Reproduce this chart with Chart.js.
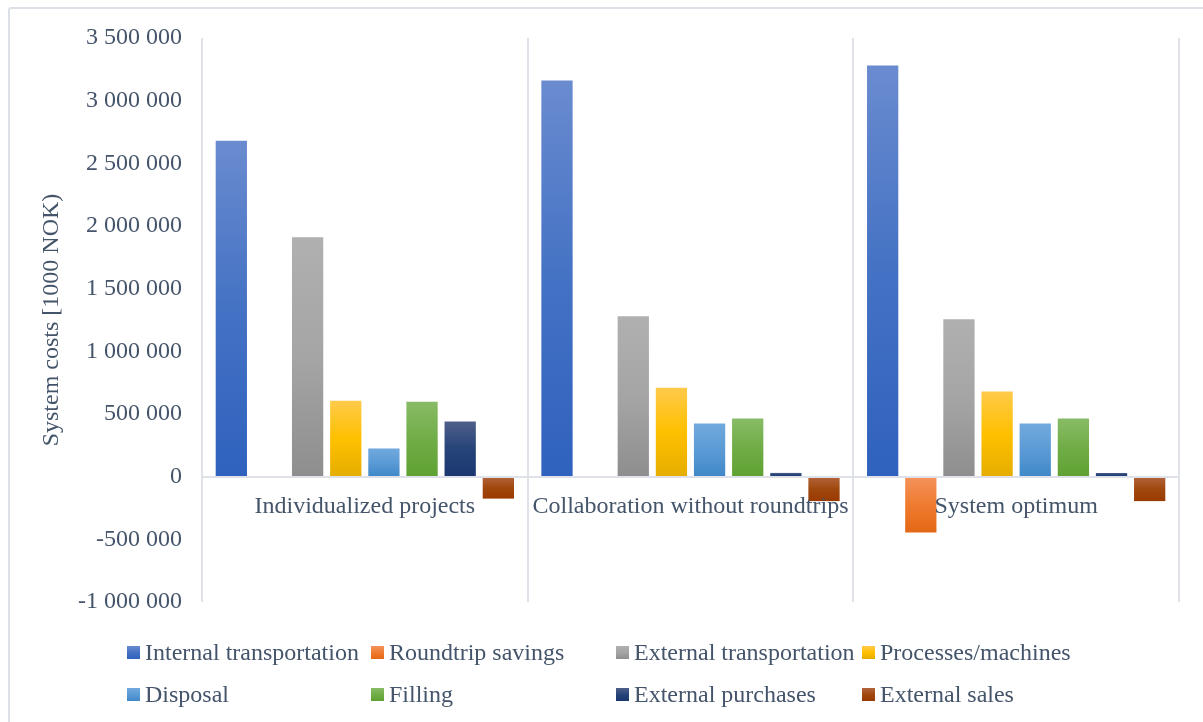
<!DOCTYPE html>
<html>
<head>
<meta charset="utf-8">
<title>System costs</title>
<script src="https://cdn.jsdelivr.net/npm/chart.js@4.4.1/dist/chart.umd.min.js"></script>
<style>
  html, body { margin: 0; padding: 0; background: #fff; }
  #wrap { position: relative; width: 1203px; height: 722px; overflow: hidden; background: #fff; }
  #frame { position: absolute; left: 8px; top: 7px; width: 1260px; height: 780px;
           border: 2px solid #dde1e7; border-radius: 3px; box-sizing: border-box; }
  #c { position: absolute; left: 0; top: 0; }
  .lg { position: absolute; height: 30px; display: flex; align-items: center;
        font: 24px "Liberation Serif", "Times New Roman", serif; color: #44546a; white-space: nowrap; }
  .lg i { display: inline-block; width: 13px; height: 13px; margin-right: 5px; }
</style>
</head>
<body>
<div id="wrap">
  <div id="frame"></div>
  <canvas id="c" width="1203" height="722"></canvas>
  <div id="legend"></div>
</div>
<script>
// Scenarios on the category axis
const categories = ['Individualized projects', 'Collaboration without roundtrips', 'System optimum'];

// Cost components per scenario [1000 NOK]
const internalTransportation = [2680000, 3160000, 3280000];
const roundtripSavings       = [0, 0, -445000];
const externalTransportation = [1910000, 1280000, 1255000];
const processesMachines      = [605000, 710000, 680000];
const disposal               = [225000, 425000, 425000];
const filling                = [598000, 465000, 465000];
const externalPurchases      = [440000, 30000, 30000];
const externalSales          = [-175000, -195000, -195000];

const seriesNames = ['Internal transportation', 'Roundtrip savings', 'External transportation',
  'Processes/machines', 'Disposal', 'Filling', 'External purchases', 'External sales'];
const seriesValues = [internalTransportation, roundtripSavings, externalTransportation,
  processesMachines, disposal, filling, externalPurchases, externalSales];

// Value axis ticks
const yMin = -1000000;
const yMax = 3500000;
const yStep = 500000;
const yTitle = 'System costs [1000 NOK)';

// Bar shading: light top, base middle, dark bottom
const shades = [
  ['#6a8bcf', '#4472c4', '#2f62be'],
  ['#f4935c', '#ef7b30', '#e46815'],
  ['#b0b0b0', '#a5a5a5', '#8e8e8e'],
  ['#ffca4a', '#ffc000', '#e5ad00'],
  ['#72a9de', '#5b9bd5', '#3f88c8'],
  ['#88bb66', '#70ad47', '#5fa132'],
  ['#4f5f8a', '#264478', '#1a3670'],
  ['#b3643d', '#a0480e', '#9a3a00']
];

const FONT = '"Liberation Serif", "Times New Roman", serif';
const TEXT = '#44546a';
const GRID = '#dfe3e9';

function shadedFill(idx) {
  const [light, mid, dark] = shades[idx];
  return (ctx) => {
    const chart = ctx.chart;
    if (ctx.type !== 'data' || !chart.chartArea || !chart.scales.y) return mid;
    const y = chart.scales.y;
    const p0 = y.getPixelForValue(0);
    const p1 = y.getPixelForValue(ctx.raw);
    const top = Math.min(p0, p1), bot = Math.max(p0, p1);
    if (bot - top < 1) return mid;
    const g = chart.ctx.createLinearGradient(0, top, 0, bot);
    g.addColorStop(0, light);
    g.addColorStop(0.5, mid);
    g.addColorStop(1, dark);
    return g;
  };
}

function spaced(v) {
  const s = String(Math.abs(v)).replace(/\B(?=(\d{3})+(?!\d))/g, ' ');
  return (v < 0 ? '-' : '') + s;
}

const datasets = seriesNames.map((name, i) => ({
  label: name,
  data: seriesValues[i],
  backgroundColor: shadedFill(i),
  borderWidth: 0,
  barPercentage: 0.82,
  categoryPercentage: 0.937
}));

new Chart(document.getElementById('c'), {
  type: 'bar',
  data: { labels: categories, datasets },
  options: {
    responsive: false,
    animation: false,
    devicePixelRatio: 1,
    layout: { padding: { left: 0, top: 38, right: 24, bottom: 120 } },
    plugins: { legend: { display: false }, tooltip: { enabled: false } },
    scales: {
      x: {
        type: 'category',
        position: { y: 0 },
        grid: { display: true, color: GRID, lineWidth: 2, drawTicks: false, offset: true },
        border: { display: true, color: GRID, width: 2, z: 1 },
        ticks: { font: { family: FONT, size: 24 }, color: TEXT, padding: 16, maxRotation: 0, autoSkip: false, z: 1 }
      },
      y: {
        min: yMin,
        max: yMax,
        grid: { display: false, drawTicks: false },
        border: { display: false },
        ticks: {
          stepSize: yStep,
          font: { family: FONT, size: 24 },
          color: TEXT,
          padding: 20,
          callback: (v) => spaced(v)
        },
        title: {
          display: true,
          text: yTitle,
          font: { family: FONT, size: 24 },
          color: TEXT,
          padding: { top: 37, bottom: 0 }
        },
        afterFit: (scale) => { scale.width = 202; }
      }
    }
  }
});

// Legend in a 4-column grid
const legendCols = [127, 371, 616, 862];
const legendRows = [652.5, 694];
const legend = document.getElementById('legend');
seriesNames.forEach((name, i) => {
  const item = document.createElement('div');
  item.className = 'lg';
  item.style.left = legendCols[i % 4] + 'px';
  item.style.top = (legendRows[Math.floor(i / 4)] - 15) + 'px';
  const box = document.createElement('i');
  box.style.background = 'linear-gradient(' + shades[i][0] + ',' + shades[i][1] + ',' + shades[i][2] + ')';
  item.appendChild(box);
  item.appendChild(document.createTextNode(name));
  legend.appendChild(item);
});
</script>
</body>
</html>
